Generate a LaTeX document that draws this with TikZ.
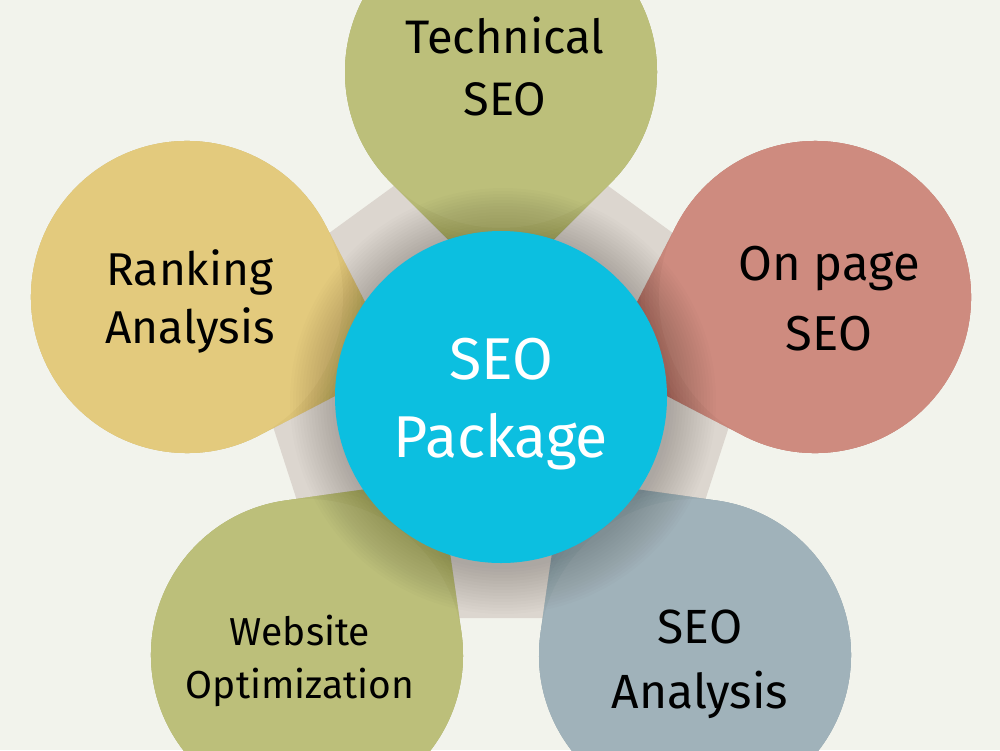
\documentclass[tikz,border=0pt]{standalone}
\usepackage{fontspec}
\setmainfont{Fira Sans}
\definecolor{bgc}{HTML}{F2F3EC}
\definecolor{pentac}{HTML}{DCD6CF}
\definecolor{cyanc}{HTML}{0CBFE0}
\definecolor{olivec}{HTML}{BCBF7A}
\definecolor{oliveD}{HTML}{A8AB67}
\definecolor{salmonc}{HTML}{CE8B7F}
\definecolor{salmonD}{HTML}{BB7A6F}
\definecolor{slatec}{HTML}{A0B2BA}
\definecolor{slateD}{HTML}{8E9FA7}
\definecolor{sandc}{HTML}{E3CA7D}
\definecolor{sandD}{HTML}{CFB66B}
\newcommand\petal[5]{%
  \begin{scope}[shift={(#1,#2)},rotate=#3]
    \fill[#5] (220.6,0) -- (110.3,110.3) arc[start angle=45,end angle=315,radius=156] -- cycle;
    \begin{scope}
      \clip (220.6,0) -- (110.3,110.3) arc[start angle=45,end angle=315,radius=156] -- cycle;
      \foreach \r in {174,170,166,162,159} \fill[#4,opacity=0.25] (0,0) circle[radius=\r];
    \end{scope}
    \fill[#4] (0,0) circle[radius=156];
  \end{scope}}
\newcommand\twolines[2]{\begin{tabular}[b]{@{}c@{}}#1\\#2\end{tabular}}
\tikzset{
  lbl/.style={inner sep=0pt, anchor=base, text=black},
}
\begin{document}
\begin{tikzpicture}[x=1pt,y=-1pt]
  \useasboundingbox (0,0) rectangle (1000,750);
  \clip (0,0) rectangle (1000,750);
  \fill[bgc] (0,0) rectangle (1000,750);
  % pentagon
  \fill[pentac] (501,108) -- (769,303) -- (667,618) -- (335,618) -- (233,303) -- cycle;
  % petals
  \petal{501}{72}{-90}{olivec}{oliveD}
  \petal{815}{297}{-162.3}{salmonc}{salmonD}
  \petal{187}{297}{-17.7}{sandc}{sandD}
  \petal{695}{655}{126.9}{slatec}{slateD}
  \petal{307}{655}{53.1}{olivec}{oliveD}
  % soft shadow of the centre circle
  \foreach \r in {168,171,...,213}
    \fill[black,opacity=0.01] (503,401) circle[radius=\r];
  % centre
  \node[circle, fill=cyanc, minimum size=332pt, inner sep=0pt] (hub) at (501,397) {};
  \node[lbl, text=white, font=\fontsize{59}{78}\selectfont] (hubtxt) at (501,457) {\twolines{SEO}{Package}};
  \node[lbl, font=\fontsize{47}{62}\selectfont] (tech) at (505,115) {\twolines{Technical}{SEO}};
  \node[lbl, font=\fontsize{49}{70}\selectfont] (onpage) at (829,350) {\twolines{On page}{SEO}};
  \node[lbl, font=\fontsize{46}{58}\selectfont] (rank) at (190,343.5) {\twolines{Ranking}{Analysis}};
  \node[lbl, font=\fontsize{48}{65}\selectfont] (analysis) at (700,708) {\twolines{SEO}{Analysis}};
  \node[lbl, font=\fontsize{39}{53}\selectfont] (web) at (300,698) {\twolines{Website}{Optimization}};
\end{tikzpicture}
\end{document}
